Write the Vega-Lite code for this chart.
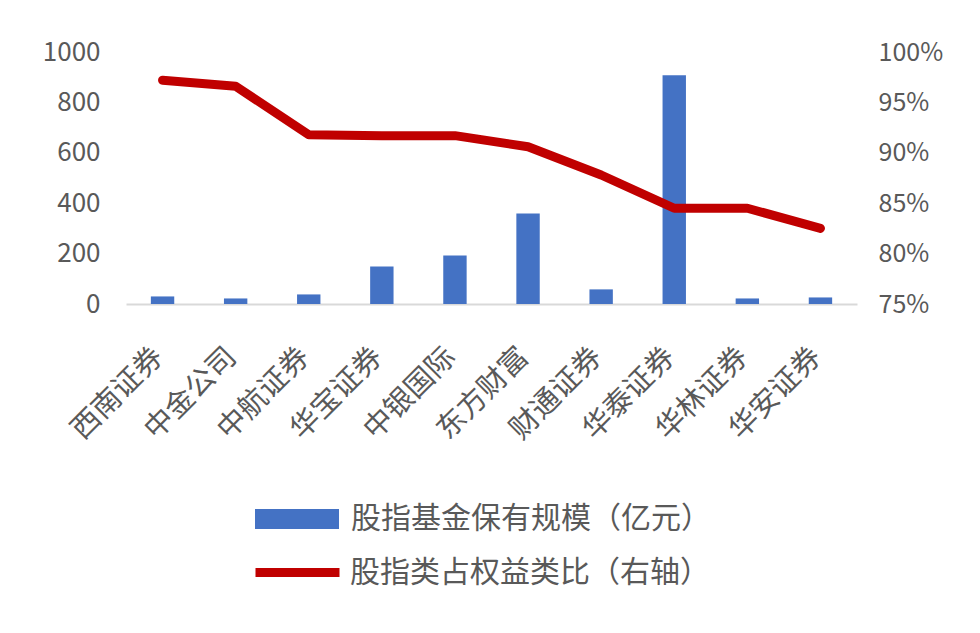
{
  "$schema": "https://vega.github.io/schema/vega-lite/v6.json",
  "autosize": {"type": "none"},
  "width": 731,
  "height": 252,
  "padding": {"left": 126, "top": 52, "right": 123, "bottom": 329},
  "background": "white",
  "config": {
    "view": {"stroke": null},
    "font": "Noto Sans CJK SC",
    "axis": {"labelFont": "Noto Sans CJK SC", "labelColor": "#595959", "grid": false, "ticks": false}
  },
  "data": {
    "values": [
      {"name": "西南证券", "scale": 30, "ratio": 0.972},
      {"name": "中金公司", "scale": 22, "ratio": 0.966},
      {"name": "中航证券", "scale": 38, "ratio": 0.918},
      {"name": "华宝证券", "scale": 149, "ratio": 0.917},
      {"name": "中银国际", "scale": 192, "ratio": 0.917},
      {"name": "东方财富", "scale": 359, "ratio": 0.906},
      {"name": "财通证券", "scale": 58, "ratio": 0.878},
      {"name": "华泰证券", "scale": 908, "ratio": 0.845},
      {"name": "华林证券", "scale": 22, "ratio": 0.845},
      {"name": "华安证券", "scale": 26, "ratio": 0.825}
    ]
  },
  "encoding": {
    "x": {
      "field": "name", "type": "nominal", "sort": null, "title": null,
      "scale": {"paddingInner": 0.68, "paddingOuter": 0.34},
      "axis": {"labelAngle": -45, "labelFontSize": 29, "labelPadding": 38, "labelOffset": -14, "domainColor": "#D9D9D9", "domainWidth": 2}
    }
  },
  "layer": [
    {
      "mark": {"type": "bar", "color": "#4472C4"},
      "encoding": {
        "y": {
          "field": "scale", "type": "quantitative", "title": null,
          "scale": {"domain": [0, 1000]},
          "axis": {"values": [0, 200, 400, 600, 800, 1000], "format": "d", "domain": false, "labelFontSize": 26, "labelPadding": 26}
        },
        "fill": {
          "datum": "股指基金保有规模（亿元）", "type": "nominal",
          "scale": {"range": ["#4472C4"]},
          "legend": {
            "title": null, "orient": "none", "legendX": 129, "legendY": 425,
            "symbolType": "M-1,-0.24H1V0.24H-1Z", "symbolSize": 7056, "symbolStrokeWidth": 0,
            "labelFontSize": 30, "labelColor": "#595959", "labelOffset": 12, "labelLimit": 0, "labelFont": "Noto Sans CJK SC"
          }
        }
      }
    },
    {
      "mark": {"type": "line", "color": "#C00000", "strokeWidth": 9, "strokeCap": "round", "strokeJoin": "round"},
      "encoding": {
        "y": {
          "field": "ratio", "type": "quantitative", "title": null,
          "scale": {"domain": [0.75, 1.0]},
          "axis": {"orient": "right", "values": [0.75, 0.8, 0.85, 0.9, 0.95, 1.0], "format": ".0%", "domain": false, "labelFontSize": 25, "labelPadding": 21}
        },
        "stroke": {
          "datum": "股指类占权益类比（右轴）", "type": "nominal",
          "scale": {"range": ["#C00000"]},
          "legend": {
            "title": null, "orient": "none", "legendX": 125, "legendY": 474,
            "symbolType": "stroke", "symbolSize": 7056, "symbolStrokeWidth": 9,
            "labelFontSize": 30, "labelColor": "#595959", "labelOffset": 6, "labelLimit": 0, "labelFont": "Noto Sans CJK SC"
          }
        }
      }
    }
  ],
  "resolve": {"scale": {"y": "independent"}}
}
